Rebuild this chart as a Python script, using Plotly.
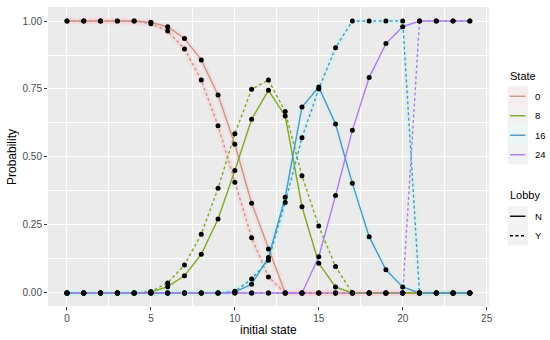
import plotly.graph_objects as go

# ---------------- data ----------------
initial_state = list(range(25))
state_levels = ["0", "8", "16", "24"]
lobby_levels = ["N", "Y"]

p0_N = [1, 1, 1, 1, 1, 0.995, 0.979, 0.936, 0.857, 0.728, 0.547, 0.330, 0.162,
        0, 0, 0, 0, 0, 0, 0, 0, 0, 0, 0, 0]
p0_Y = [1, 1, 1, 1, 1, 0.990, 0.963, 0.897, 0.783, 0.615, 0.407, 0.203, 0.059,
        0, 0, 0, 0, 0, 0, 0, 0, 0, 0, 0, 0]
p8_N = [0, 0, 0, 0, 0, 0.003, 0.023, 0.063, 0.142, 0.272, 0.450, 0.639, 0.745,
        0.651, 0.317, 0.109, 0.022, 0, 0, 0, 0, 0, 0, 0, 0]
p8_Y = [0, 0, 0, 0, 0, 0.005, 0.037, 0.103, 0.216, 0.385, 0.585, 0.749, 0.783,
        0.667, 0.431, 0.246, 0.097, 0, 0, 0, 0, 0, 0, 0, 0]
p16_N = [0, 0, 0, 0, 0, 0, 0, 0, 0, 0, 0.003, 0.032, 0.130, 0.352, 0.684, 0.757,
         0.621, 0.403, 0.207, 0.085, 0.022, 0, 0, 0, 0]
p16_Y = [0, 0, 0, 0, 0, 0, 0, 0, 0, 0, 0.006, 0.051, 0.120, 0.333, 0.571, 0.750,
         0.902, 1, 1, 1, 1, 0, 0, 0, 0]
p24_N = [0, 0, 0, 0, 0, 0, 0, 0, 0, 0, 0, 0, 0, 0, 0, 0.133, 0.358, 0.598, 0.792,
         0.917, 0.979, 1, 1, 1, 1]
p24_Y = [0, 0, 0, 0, 0, 0, 0, 0, 0, 0, 0, 0, 0, 0, 0, 0, 0, 0, 0, 0, 0, 1, 1, 1, 1]

x_ticks = [0, 5, 10, 15, 20, 25]
y_ticks = [0, 0.25, 0.5, 0.75, 1.0]

series = {
    ("0", "N"): p0_N, ("0", "Y"): p0_Y,
    ("8", "N"): p8_N, ("8", "Y"): p8_Y,
    ("16", "N"): p16_N, ("16", "Y"): p16_Y,
    ("24", "N"): p24_N, ("24", "Y"): p24_Y,
}

# ---------------- styles ----------------
FONT = "Liberation Sans, Arial, sans-serif"
line_col = {"0": "#C89782", "8": "#7FA722", "16": "#5692C4", "24": "#A97DF0"}
halo_col = {"0": "rgba(255,190,205,0.25)", "16": "rgba(170,250,240,0.25)"}
key_bg = {"0": "#F6EDEF", "8": "#F2F2F2", "16": "#ECF6F5", "24": "#F2F2F2"}
dash_of = {"N": "solid", "Y": "3px,2.5px"}

W, H = 550, 340
L, R, T, B = 48, 489, 7, 306

fig = go.Figure()

# halos
for (s, lb), vals in series.items():
    if s in halo_col:
        fig.add_trace(go.Scatter(x=initial_state, y=vals, mode="lines",
                                 line=dict(color=halo_col[s], width=6),
                                 showlegend=False, hoverinfo="skip"))
# lines
for (s, lb), vals in series.items():
    fig.add_trace(go.Scatter(x=initial_state, y=vals, mode="lines",
                             line=dict(color=line_col[s], width=1.4, dash=dash_of[lb]),
                             showlegend=False, name=f"{s} {lb}"))
# points
for (s, lb), vals in series.items():
    fig.add_trace(go.Scatter(x=initial_state, y=vals, mode="markers",
                             marker=dict(color="black", size=5),
                             showlegend=False, hoverinfo="skip"))


def pxx(x):
    return (x - L) / (R - L)


def pyy(y):
    return (B - y) / (B - T)


shapes = []
ann = []

# legend: State
ann.append(dict(x=pxx(508), y=pyy(76), xref="paper", yref="paper", text="State",
                showarrow=False, xanchor="left", yanchor="middle",
                font=dict(family=FONT, size=11, color="black")))
key_h = 19.5
top0 = 86.5
for i, s in enumerate(state_levels):
    y0 = top0 + i * key_h
    yc = y0 + key_h / 2
    shapes.append(dict(type="rect", xref="paper", yref="paper",
                       x0=pxx(507.5), x1=pxx(528), y0=pyy(y0), y1=pyy(y0 + key_h),
                       fillcolor=key_bg[s], line=dict(width=0), layer="above"))
    shapes.append(dict(type="line", xref="paper", yref="paper",
                       x0=pxx(510), x1=pxx(525.5), y0=pyy(yc), y1=pyy(yc),
                       line=dict(color=line_col[s], width=1.4), layer="above"))
    ann.append(dict(x=pxx(533), y=pyy(yc), xref="paper", yref="paper", text=s,
                    showarrow=False, xanchor="left", yanchor="middle",
                    font=dict(family=FONT, size=9.5, color="black")))

# legend: Lobby
ann.append(dict(x=pxx(508), y=pyy(195), xref="paper", yref="paper", text="Lobby",
                showarrow=False, xanchor="left", yanchor="middle",
                font=dict(family=FONT, size=11, color="black")))
top1 = 206.5
for i, lb in enumerate(lobby_levels):
    y0 = top1 + i * key_h
    yc = y0 + key_h / 2
    shapes.append(dict(type="rect", xref="paper", yref="paper",
                       x0=pxx(507.5), x1=pxx(528), y0=pyy(y0), y1=pyy(y0 + key_h),
                       fillcolor="#F2F2F2", line=dict(width=0), layer="above"))
    shapes.append(dict(type="line", xref="paper", yref="paper",
                       x0=pxx(510), x1=pxx(525.5), y0=pyy(yc), y1=pyy(yc),
                       line=dict(color="black", width=1.4, dash=dash_of[lb]), layer="above"))
    ann.append(dict(x=pxx(533), y=pyy(yc), xref="paper", yref="paper", text=lb,
                    showarrow=False, xanchor="left", yanchor="middle",
                    font=dict(family=FONT, size=9.5, color="black")))

# axis titles
ann.append(dict(x=pxx(268), y=pyy(330), xref="paper", yref="paper", text="initial state",
                showarrow=False, xanchor="center", yanchor="middle",
                font=dict(family=FONT, size=12, color="black")))
ann.append(dict(x=pxx(12), y=pyy(157), xref="paper", yref="paper", text="Probability",
                showarrow=False, xanchor="center", yanchor="middle", textangle=-90,
                font=dict(family=FONT, size=12, color="black")))

fig.update_layout(
    width=W, height=H,
    margin=dict(l=L, r=W - R, t=T, b=H - B, pad=0),
    paper_bgcolor="white", plot_bgcolor="#EBEBEB",
    showlegend=False,
    shapes=shapes, annotations=ann,
    font=dict(family=FONT),
    hovermode=False,
)
fig.update_xaxes(
    range=[-1.13, 25.14], tickvals=x_ticks, ticktext=[str(v) for v in x_ticks],
    showgrid=True, gridcolor="white", gridwidth=1.1, zeroline=False,
    ticks="outside", ticklen=3, tickwidth=1, tickcolor="#333333",
    tickfont=dict(family=FONT, size=10, color="#4D4D4D"),
    minor=dict(tickvals=[2.5, 7.5, 12.5, 17.5, 22.5], showgrid=True,
               gridcolor="white", gridwidth=0.55, ticks=""),
    showline=False,
)
fig.update_yaxes(
    range=[-0.048, 1.0515], tickvals=y_ticks, ticktext=[f"{v:.2f}" for v in y_ticks],
    showgrid=True, gridcolor="white", gridwidth=1.1, zeroline=False,
    ticks="outside", ticklen=3, tickwidth=1, tickcolor="#333333",
    tickfont=dict(family=FONT, size=10, color="#4D4D4D"),
    minor=dict(tickvals=[0.125, 0.375, 0.625, 0.875], showgrid=True,
               gridcolor="white", gridwidth=0.55, ticks=""),
    showline=False,
)

fig.write_html(
    "out.html",
    config={"displayModeBar": False},
    post_script="document.body.style.margin='0px';document.body.style.padding='0px';",
)
